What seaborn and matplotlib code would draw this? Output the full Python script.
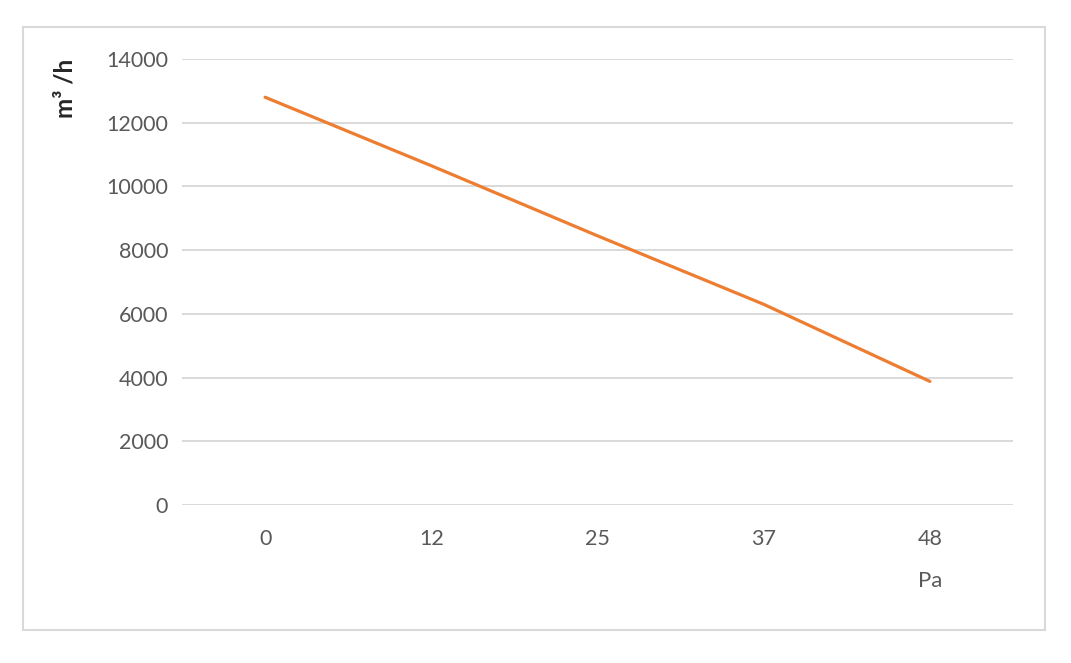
import matplotlib
matplotlib.use("Agg")
import matplotlib.pyplot as plt
import matplotlib.transforms as mtransforms
from matplotlib.patches import Rectangle
import seaborn as sns
import pandas as pd

# data
pressure = ["0", "12", "25", "37", "48"]
airflow = [12800, 10650, 8450, 6300, 3880]
y_ticks = [0, 2000, 4000, 6000, 8000, 10000, 12000, 14000]

sns.set_theme(style="white")
plt.rcParams["font.family"] = ["Lato", "DejaVu Sans"]

df = pd.DataFrame({"Pa": pressure, "flow": airflow})

fig = plt.figure(figsize=(10.71, 6.63), dpi=100)
ax = fig.add_axes([182 / 1071, 1 - 505 / 663, 831 / 1071, 446 / 663])

sns.lineplot(data=df, x="Pa", y="flow", ax=ax, color="#ED7D31", linewidth=2.3,
             sort=False)

ax.set_xlim(-0.5, len(pressure) - 0.5)
ax.set_ylim(0, 14000)
ax.set_yticks(y_ticks)
ax.set_yticklabels([str(v) for v in y_ticks])
ax.yaxis.grid(True, color="#D9D9D9", linewidth=1.4)
ax.xaxis.grid(False)
ax.set_axisbelow(True)
for s in ax.spines.values():
    s.set_visible(False)

ax.tick_params(axis="y", length=0, pad=10, labelsize=15.5, labelcolor="#595959")
ax.tick_params(axis="x", length=0, pad=17, labelsize=15.5, labelcolor="#595959")

ax.set_xlabel("")
ax.set_ylabel("m³ /h", fontsize=17.5, fontweight="bold", color="#262626")
ax.yaxis.set_label_coords(-0.127, 0.935)

trans = mtransforms.blended_transform_factory(ax.transData, ax.transAxes)
ax.text(len(pressure) - 1, -0.17, "Pa", transform=trans, ha="center", va="center",
        fontsize=16, color="#595959")

# outer chart border
fig.patches.append(Rectangle((23 / 1071, 1 - 630 / 663), 1022 / 1071, 603 / 663,
                             transform=fig.transFigure, fill=False,
                             edgecolor="#D9D9D9", linewidth=1.5))

fig.savefig("out.png", dpi=100, facecolor="white")
